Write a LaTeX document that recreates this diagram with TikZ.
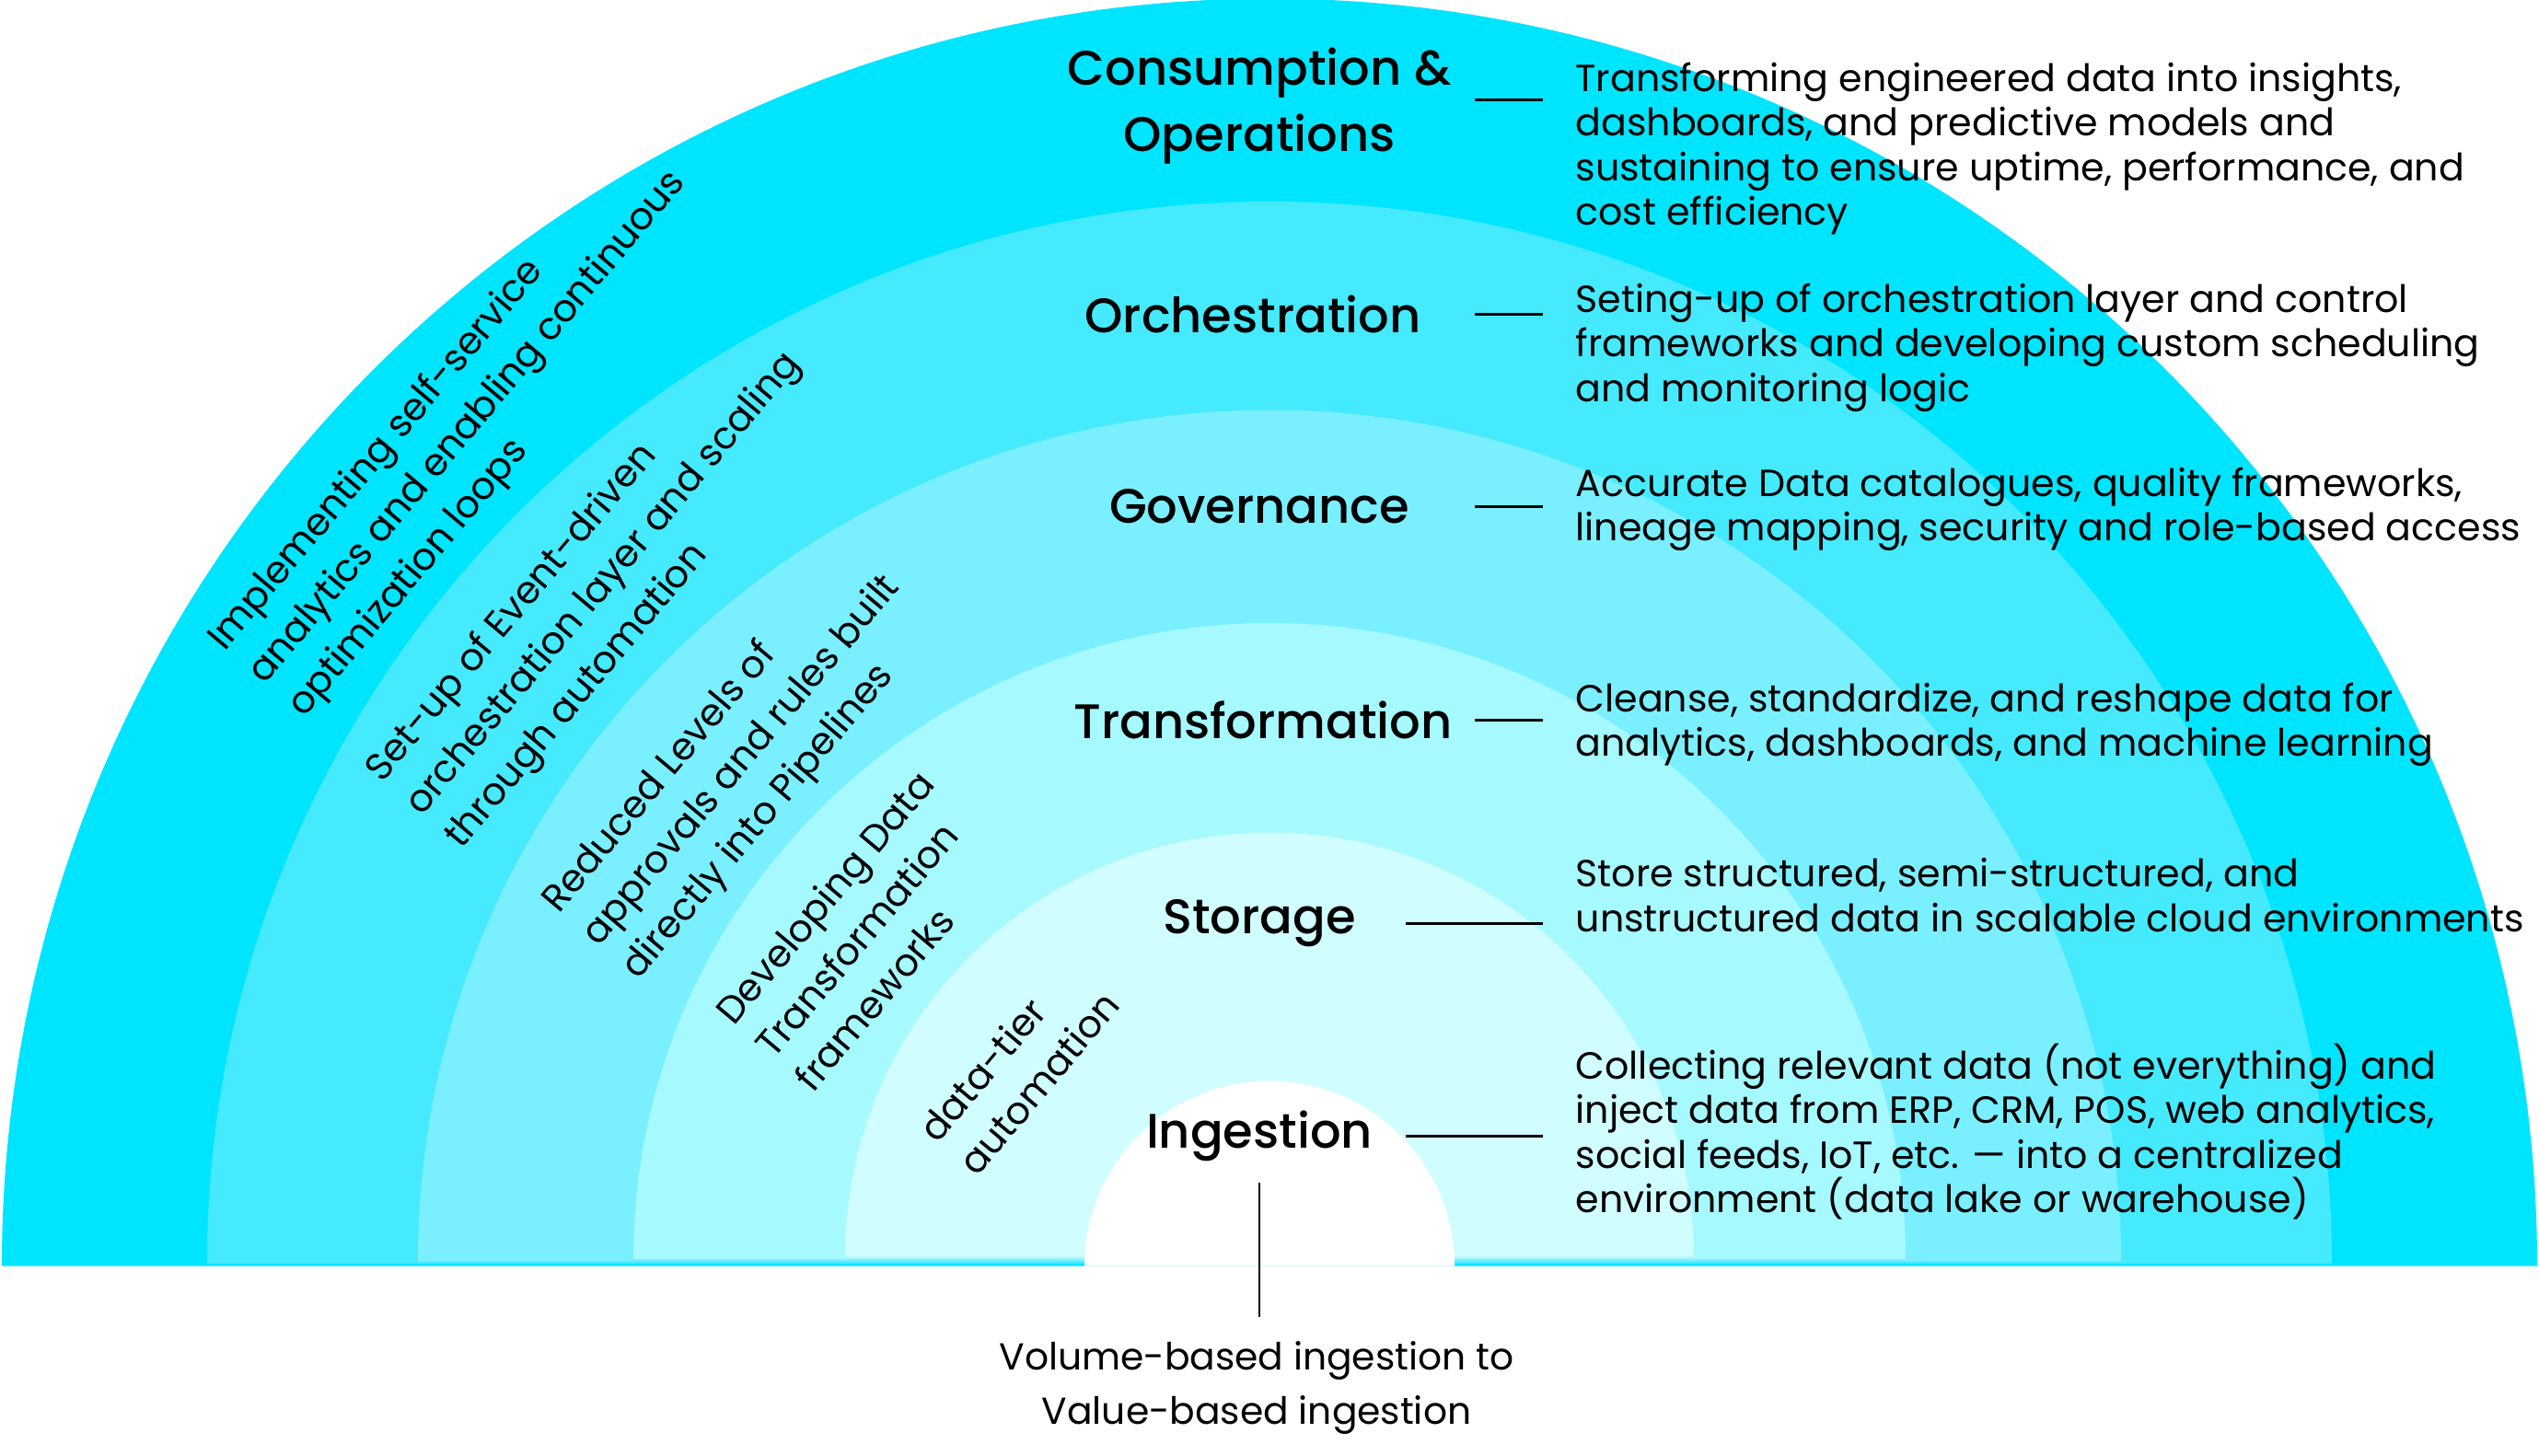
\documentclass[tikz,border=0pt]{standalone}
\usepackage{fontspec}
\setmainfont{Poppins}
\newfontfamily\headfont{Poppins Medium}
\definecolor{ringA}{HTML}{00E5FF}
\definecolor{ringB}{HTML}{45EAFF}
\definecolor{ringC}{HTML}{7AEFFF}
\definecolor{ringD}{HTML}{A5F9FF}
\definecolor{ringE}{HTML}{D0FDFF}

\begin{document}
\begin{tikzpicture}[
    head/.style={align=center, inner sep=0pt, font=\headfont\fontsize{15}{20.5}\selectfont},
    desc/.style={anchor=west, align=left, inner sep=0pt, font=\fontsize{11.7}{13.8}\selectfont},
    slant/.style={anchor=west, align=left, inner sep=0pt, rotate=50, font=\fontsize{11.7}{16}\selectfont},
    tick/.style={line width=0.8pt}]
      \useasboundingbox (-13.79,-2.055) rectangle (13.79,13.755);
      \foreach \r/\c/\h in {13.77/ringA/0, 11.54/ringB/0.025, 9.25/ringC/0.05,
                            6.91/ringD/0.075, 4.61/ringE/0.1, 2.01/white/0}
        \fill[\c] (-\r,\h) arc[start angle=180, end angle=0, radius=\r] -- cycle;

      \coordinate (dl) at (2.23,0);
      \coordinate (dls) at (1.48,0);
      \coordinate (dr) at (2.97,0);

      \node[head] (cons) at (-0.11,12.60) {Consumption \&\\Operations};
      \node[head] (orch) at (-0.18,10.34) {Orchestration};
      \node[head] (gov) at (-0.11,8.25) {Governance};
      \node[head] (trans) at (-0.07,5.93) {Transformation};
      \node[head] (stor) at (-0.11,3.72) {Storage};
      \node[head] (ingest) at (-0.11,1.41) {Ingestion};

      \node[desc] (consdesc) at (3.32,12.14) {Transforming engineered data into insights,\\dashboards, and predictive models and\\sustaining to ensure uptime, performance, and\\cost efficiency};
      \node[desc] (orchdesc) at (3.32,9.98) {Seting-up of orchestration layer and control\\frameworks and developing custom scheduling\\and monitoring logic};
      \node[desc] (govdesc) at (3.32,8.22) {Accurate Data catalogues, quality frameworks,\\lineage mapping, security and role-based access};
      \node[desc] (transdesc) at (3.32,5.88) {Cleanse, standardize, and reshape data for\\analytics, dashboards, and machine learning};
      \node[desc] (stordesc) at (3.32,4.03) {Store structured, semi-structured, and\\unstructured data in scalable cloud environments};
      \node[desc] (ingestdesc) at (3.32,1.46) {Collecting relevant data (not everything) and\\inject data from ERP, CRM, POS, web analytics,\\social feeds, IoT, etc. — into a centralized\\environment (data lake or warehouse)};

      \draw[tick] ([yshift=0.07cm]cons.center -| dl) -- ([yshift=0.07cm]cons.center -| dr);
      \draw[tick] (orch -| dl) -- (orch -| dr);
      \draw[tick] (gov -| dl) -- (gov -| dr);
      \draw[tick] (trans -| dl) -- (trans -| dr);
      \draw[tick] (stor -| dls) -- (stor -| dr);
      \draw[tick] (ingest -| dls) -- (ingest -| dr);

      \node[slant] (loops) at (-11.00,6.37) {Implementing self-service\\analytics and enabling continuous\\optimization loops};
      \node[slant] (events) at (-9.29,4.94) {Set-up of Event-driven\\orchestration layer and scaling\\through automation};
      \node[slant] (approvals) at (-7.37,3.52) {Reduced Levels of\\approvals and rules built\\directly into Pipelines};
      \node[slant] (frameworks) at (-5.51,2.33) {Developing Data\\Transformation\\frameworks};
      \node[slant] (datatier) at (-3.51,1.23) {data-tier\\automation};

      \node[align=center, inner sep=0pt, font=\fontsize{11.6}{17}\selectfont] (shift) at (-0.14,-1.325) {Volume-based ingestion to\\Value-based ingestion};
      \draw[tick, shorten <=0.22cm, shorten >=0.25cm] (ingest.south) -- (ingest.south |- shift.north);
\end{tikzpicture}
\end{document}
